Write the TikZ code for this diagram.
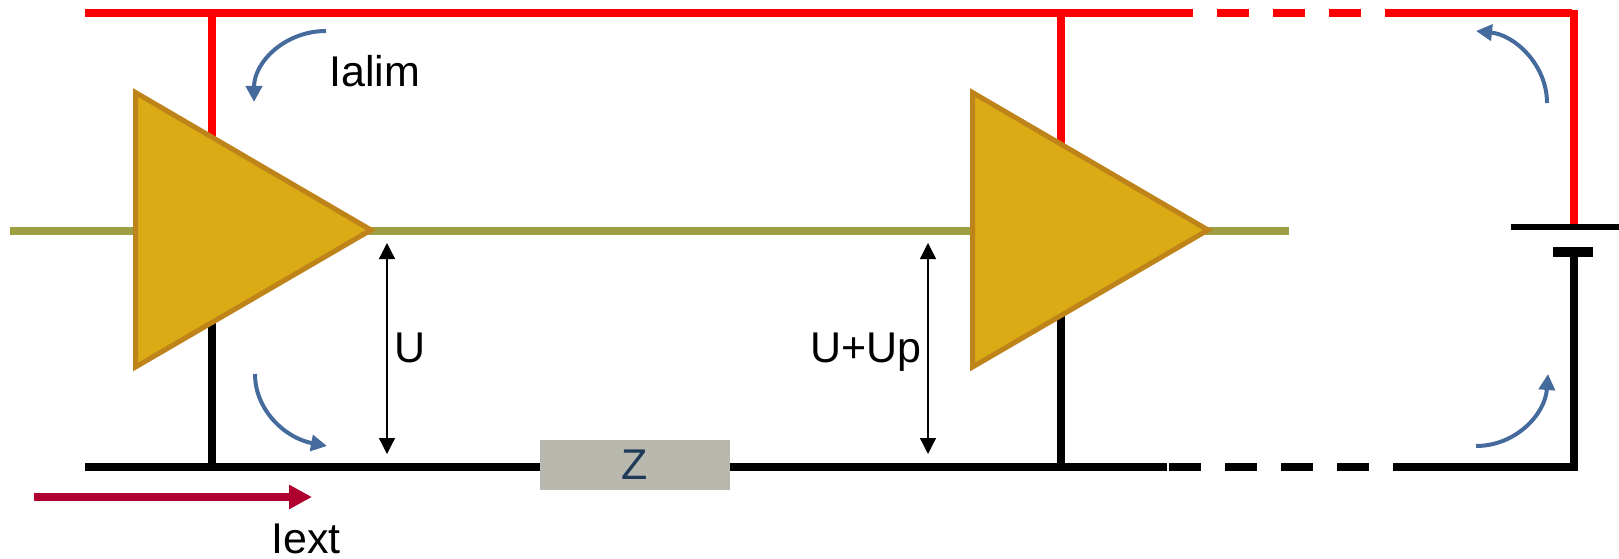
\documentclass[tikz,border=0pt]{standalone}
\usepackage{fontspec}
\setmainfont{Liberation Sans}
\usetikzlibrary{arrows.meta}

\definecolor{railred}{RGB}{255,0,0}
\definecolor{signalolive}{RGB}{158,158,66}
\definecolor{gatefill}{RGB}{218,171,20}
\definecolor{gateedge}{RGB}{190,131,25}
\definecolor{loopblue}{RGB}{69,106,156}
\definecolor{extred}{RGB}{176,0,48}
\definecolor{zgrey}{RGB}{184,184,174}
\definecolor{zink}{RGB}{31,58,87}

\tikzset{
  wire/.style={line width=8pt},
  gapwire/.style={line width=8pt, dash pattern=on 32pt off 24pt},
  gatetri/.style={fill=gatefill, draw=gateedge, line width=5pt, miter limit=10},
  loopcur/.style={color=loopblue, line width=4pt, -{Triangle[length=16pt,width=16pt]}},
  volt/.style={color=black, line width=1.3pt, {Triangle[length=16pt,width=16pt]}-{Triangle[length=16pt,width=16pt]}},
  lbl/.style={inner sep=0pt, anchor=base west, font=\fontsize{43}{50}\selectfont}
}

\begin{document}
\begin{tikzpicture}[x=1pt, y=-1pt]
  \useasboundingbox (0,0) rectangle (1619,559);

  \coordinate (redL) at (85,13);
  \coordinate (redA) at (212,13);
  \coordinate (redB) at (1061,13);
  \coordinate (redS) at (1193,13);
  \coordinate (redD1) at (1217,13);
  \coordinate (redD2) at (1361,13);
  \coordinate (redR) at (1385,13);
  \coordinate (redC) at (1572,13);
  \coordinate (gndL) at (85,467);
  \coordinate (gndA) at (212,467);
  \coordinate (gndB) at (1061,467);
  \coordinate (gndS) at (1167,467);
  \coordinate (gndD1) at (1169,467);
  \coordinate (gndD2) at (1369,467);
  \coordinate (gndR) at (1393,467);
  \coordinate (gndC) at (1578,467);
  \coordinate (batP) at (1573.5,227);
  \coordinate (batN) at (1574,252);
  \coordinate (sigL) at (10,231);
  \coordinate (sigR) at (1289,231);

  % supply rail
  \draw[color=railred, wire] (redL) -- (redS);
  \draw[color=railred, gapwire] (redD1) -- (redD2);
  \draw[color=railred, wire] (redR) -- (redC);
  \draw[color=railred, wire] (1573.5,10) -- (batP);
  \draw[color=railred, wire] (redA) -- (212,150);
  \draw[color=railred, wire] (redB) -- (1061,150);

  % return rail
  \draw[color=black, wire] (gndL) -- (gndS);
  \draw[color=black, gapwire] (gndD1) -- (gndD2);
  \draw[color=black, wire] (gndR) -- (gndC);
  \draw[color=black, wire] (1574,471) -- (batN);
  \draw[color=black, wire] (gndA) -- (212,310);
  \draw[color=black, wire] (gndB) -- (1061,310);

  % battery
  \draw[color=black, line width=5.5pt] (1511,227) -- (1619,227);
  \draw[color=black, line width=10pt] (1553,252) -- (1593,252);

  \draw[color=signalolive, wire] (sigL) -- (sigR);

  \foreach \tx in {0,837}
    \draw[gatetri, shift={(\tx,0)}] (135.5,92.5) -- (371,230) -- (135.5,367) -- cycle;

  \node[fill=zgrey, minimum width=190pt, minimum height=50pt, inner sep=0pt,
        text=zink, font=\fontsize{43}{50}\selectfont] (imp) at (635,465) {Z};

  \coordinate (uT) at (387,243);
  \coordinate (uB) at (387,454);
  \coordinate (upT) at (928,243);
  \coordinate (upB) at (928,454);
  \draw[volt] (uT) -- (uB);
  \draw[volt] (upT) -- (upB);

  \draw[loopcur] (326,31) .. controls (285,31) and (254,62) .. (254,102);
  \draw[loopcur] (255,374) .. controls (255,410) and (285,438) .. (327,446);
  \draw[loopcur] (1547,103) .. controls (1547,65) and (1515,35) .. (1476,31);
  \draw[loopcur] (1476,446) .. controls (1515,446) and (1545,415) .. (1548,374);

  \coordinate (extL) at (34,497);
  \coordinate (extR) at (312,497);
  \draw[color=extred, wire, -{Triangle[length=23pt,width=23pt]}] (extL) -- (extR);

  \node[lbl] (ialim) at (329,87) {Ialim};
  \node[lbl] (uval) at (394.5,362) {U};
  \node[lbl] (upval) at (810,362) {U+Up};
  \node[lbl] (iext) at (271,553) {Iext};
\end{tikzpicture}
\end{document}
